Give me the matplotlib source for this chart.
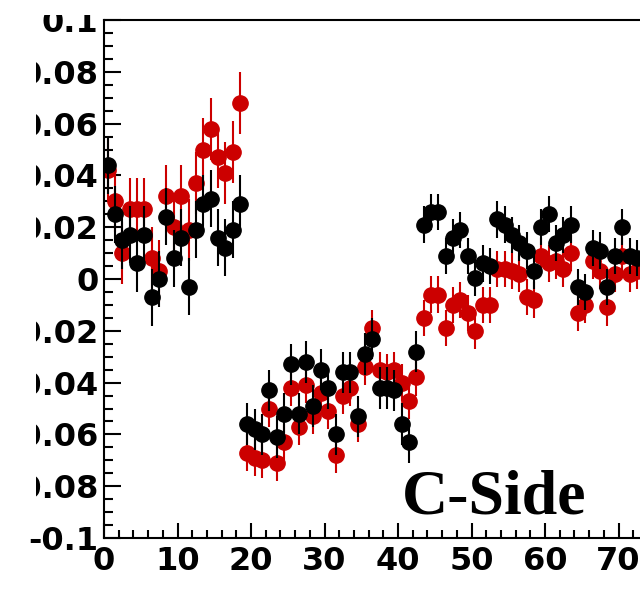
import matplotlib
matplotlib.use("Agg")
import matplotlib.pyplot as plt
import numpy as np
from matplotlib.ticker import MultipleLocator
from matplotlib.patches import Rectangle

plt.rcParams["axes.unicode_minus"] = False

# bin centres
x_a = np.arange(0.5, 19, 1.0)    # 0.5 .. 18.5
x_b = np.arange(19.5, 43, 1.0)   # 19.5 .. 42.5
x_c = np.arange(43.5, 73, 1.0)   # 43.5 .. 72.5

black_a = [0.044, 0.025, 0.015, 0.017, 0.006, 0.017, -0.007, 0.000, 0.024, 0.008,
           0.016, -0.003, 0.019, 0.029, 0.031, 0.016, 0.012, 0.019, 0.029]
black_b = [-0.056, -0.058, -0.060, -0.043, -0.061, -0.052, -0.033, -0.052, -0.032, -0.049,
           -0.035, -0.042, -0.060, -0.036, -0.036, -0.053, -0.029, -0.023, -0.042, -0.042,
           -0.043, -0.056, -0.063, -0.028]
black_c = [0.021, 0.026, 0.026, 0.009, 0.016, 0.019, 0.009, 0.0005, 0.006, 0.005,
           0.023, 0.021, 0.017, 0.014, 0.011, 0.003, 0.020, 0.025, 0.014, 0.017,
           0.021, -0.003, -0.005, 0.012, 0.011, -0.003, 0.009, 0.020, 0.009, 0.008]

red_a = [0.042, 0.030, 0.010, 0.027, 0.027, 0.027, 0.008, 0.003, 0.032, 0.020,
         0.032, 0.019, 0.037, 0.050, 0.058, 0.047, 0.041, 0.049, 0.068]
red_b = [-0.067, -0.069, -0.070, -0.050, -0.071, -0.063, -0.042, -0.057, -0.041, -0.053,
         -0.044, -0.051, -0.068, -0.045, -0.042, -0.056, -0.034, -0.019, -0.035, -0.036,
         -0.035, -0.040, -0.047, -0.038]
red_c = [-0.015, -0.006, -0.006, -0.019, -0.010, -0.008, -0.013, -0.020, -0.010, -0.010,
         0.004, 0.004, 0.003, 0.002, -0.007, -0.008, 0.009, 0.006, 0.007, 0.004,
         0.010, -0.013, -0.010, 0.007, 0.003, -0.011, 0.002, 0.009, 0.002, 0.003]

# rough error sizes per section
err_black = [0.011] * 19 + [0.008] * 24 + [0.007] * 30
err_red = [0.012] * 19 + [0.007] * 24 + [0.007] * 30

x = np.concatenate([x_a, x_b, x_c])
black = np.array(black_a + black_b + black_c)
red = np.array(red_a + red_b + red_c)

fig = plt.figure(figsize=(6.4, 5.95), dpi=100)
ax = fig.add_axes([104/640, 57/595, 1 - 104/640, 518/595])

ax.errorbar(x, red, yerr=err_red, fmt="o", color="#cc0000", ms=11,
            elinewidth=1.5, capsize=0, zorder=2)
ax.errorbar(x, black, yerr=err_black, fmt="o", color="black", ms=11,
            elinewidth=1.5, capsize=0, zorder=3)

ax.set_xlim(0, (640 - 104) / 7.35)
ax.set_ylim(-0.1, 0.1)

ax.xaxis.set_major_locator(MultipleLocator(10))
ax.xaxis.set_minor_locator(MultipleLocator(2))
ax.yaxis.set_major_locator(MultipleLocator(0.02))
ax.yaxis.set_minor_locator(MultipleLocator(0.005))
ax.yaxis.set_major_formatter(plt.FuncFormatter(lambda v, p: "0" if abs(v) < 1e-9 else ("%g" % round(v, 3))))

ax.tick_params(which="both", direction="in", top=False, right=False, width=1.5)
ax.tick_params(axis="x", which="major", length=11, pad=6)
ax.tick_params(axis="x", which="minor", length=6)
ax.tick_params(axis="y", which="major", length=12, pad=4)
ax.tick_params(axis="y", which="minor", length=6.5)
for lab in ax.get_xticklabels() + ax.get_yticklabels():
    lab.set_fontfamily("DejaVu Sans")
    lab.set_fontweight("bold")
    lab.set_fontsize(23)

for s in ["left", "bottom", "top"]:
    ax.spines[s].set_linewidth(1.5)
ax.spines["right"].set_visible(False)

fig.text(402/640, (595 - 513)/595, "C-Side", family="Liberation Serif",
         weight="bold", fontsize=46, va="baseline", ha="left")

# the source image is cropped: blank strip on the left (above the -0.1 label)
# and a box over the top label
fig.add_artist(Rectangle((0, 1 - 522/595), 36/640, 522/595, transform=fig.transFigure,
                         facecolor="white", edgecolor="none", zorder=10))
fig.add_artist(Rectangle((0, 1 - 15/595), 100/640, 15/595, transform=fig.transFigure,
                         facecolor="white", edgecolor="none", zorder=10))

fig.savefig("out.png", dpi=100)
